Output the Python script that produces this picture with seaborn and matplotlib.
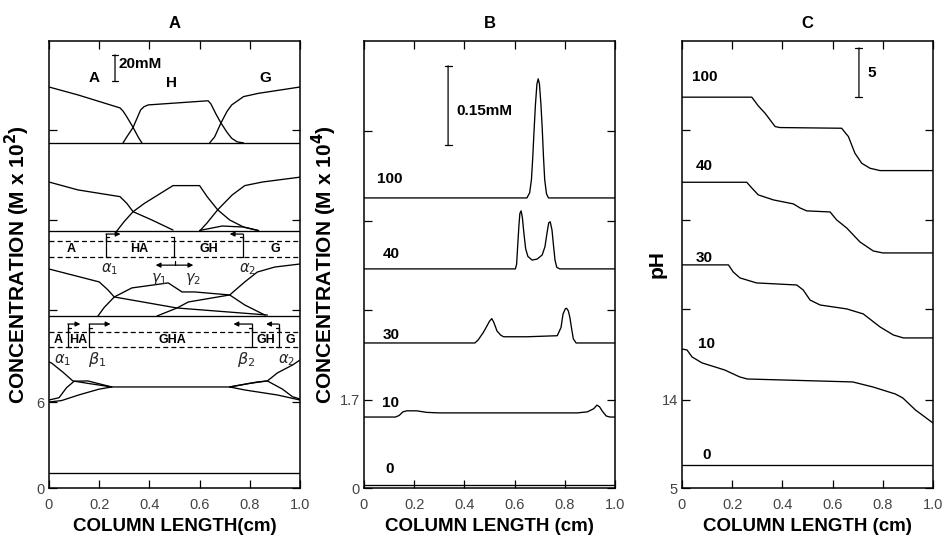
import matplotlib
matplotlib.use("Agg")
import matplotlib.pyplot as plt
import numpy as np
import pandas as pd
import seaborn as sns

sns.set_theme(style="ticks")
plt.rcParams['font.family'] = ['Liberation Sans', 'DejaVu Sans']
plt.rcParams['mathtext.fontset'] = 'dejavusans'

# ---------------- Panel A data (units of M x 10^2, stacked) ----------------
a_top_A_x = [0, 0.115, 0.283, 0.295, 0.31, 0.335, 0.355, 0.37]
a_top_A_y = [27.98, 27.43, 26.52, 26.3, 25.9, 25.16, 24.5, 24.08]
a_top_H_x = [0.295, 0.31, 0.335, 0.365, 0.378, 0.395, 0.634, 0.645, 0.665, 0.685, 0.71, 0.728, 0.75, 0.775]
a_top_H_y = [24.08, 24.5, 25.16, 26.38, 26.6, 26.73, 27.02, 26.8, 26.1, 25.47, 24.8, 24.4, 24.15, 24.08]
a_top_G_x = [0.64, 0.66, 0.685, 0.71, 0.728, 0.775, 0.835, 1.0]
a_top_G_y = [24.08, 24.5, 25.47, 26.3, 26.73, 27.31, 27.54, 27.98]
a_top_base = 24.08

a_mid_A_x = [0, 0.115, 0.283, 0.31, 0.335, 0.41, 0.494]
a_mid_A_y = [21.35, 20.80, 20.33, 19.86, 19.28, 18.70, 18.0]
a_mid_H_x = [0.27, 0.30, 0.335, 0.38, 0.494, 0.60, 0.63, 0.672, 0.72, 0.775, 0.835]
a_mid_H_y = [17.93, 18.6, 19.28, 19.86, 21.1, 21.1, 20.33, 19.41, 18.7, 18.21, 17.95]
a_mid_G_x = [0.60, 0.63, 0.672, 0.73, 0.78, 0.85, 1.0]
a_mid_G_y = [17.93, 18.5, 19.41, 20.45, 21.1, 21.35, 21.69]
a_mid_GH_x = [0.60, 0.69, 0.775, 0.835]
a_mid_GH_y = [17.97, 18.28, 18.21, 17.97]
a_mid_base = 17.93

a_low_A_x = [0, 0.2, 0.235, 0.26, 0.51, 0.87]
a_low_A_y = [15.28, 14.38, 13.82, 13.33, 12.56, 12.07]
a_low_H_x = [0.195, 0.22, 0.26, 0.33, 0.475, 0.53, 0.58, 0.72, 0.78, 0.86]
a_low_H_y = [12.0, 12.6, 13.33, 13.96, 14.31, 13.68, 13.68, 13.47, 12.77, 12.07]
a_low_G_x = [0.43, 0.51, 0.555, 0.72, 0.78, 0.83, 0.90, 1.0]
a_low_G_y = [12.0, 12.56, 12.98, 13.47, 14.38, 15.07, 15.42, 15.63]
a_low_base = 12.0

a_bot_a_x = [0, 0.01, 0.055, 0.095, 0.155, 0.25, 0.72]
a_bot_a_y = [8.79, 8.72, 8.09, 7.47, 7.30, 7.05, 7.05]
a_bot_b_x = [0, 0.04, 0.07, 0.10, 0.155, 0.25]
a_bot_b_y = [6.14, 6.3, 7.0, 7.45, 7.47, 7.05]
a_bot_c_x = [0, 0.05, 0.12, 0.2, 0.25]
a_bot_c_y = [6.0, 6.1, 6.5, 6.9, 7.05]
a_bot_d_x = [0.72, 0.83, 0.87, 0.91, 0.97, 1.0]
a_bot_d_y = [7.05, 7.40, 7.47, 8.03, 8.58, 8.93]
a_bot_e_x = [0.72, 0.78, 0.91, 1.0]
a_bot_e_y = [7.05, 6.84, 6.49, 6.14]
a_bot_f_x = [0.72, 0.80, 0.87, 0.93, 0.97, 1.0]
a_bot_f_y = [7.05, 7.3, 7.47, 6.9, 6.37, 6.21]
a_zero_level = 1.05

a_yticks = [0, 6.0, 12.42, 18.70, 24.98]
a_yticklabels = ["0", "6", "", "", ""]

# ---------------- Panel B data (M x 10^4, stacked) ----------------
b_t100_x = [0, 0.649, 0.66, 0.667, 0.672, 0.677, 0.683, 0.689, 0.694, 0.699, 0.705, 0.71, 0.715, 0.72, 0.727, 0.735, 1.0]
b_t100_y = [5.60, 5.60, 5.70, 5.95, 6.35, 6.85, 7.40, 7.80, 7.90, 7.80, 7.40, 6.95, 6.40, 5.95, 5.68, 5.60, 5.60]
b_t40_x = [0, 0.603, 0.608, 0.612, 0.617, 0.621, 0.626, 0.631, 0.637, 0.644, 0.653, 0.67, 0.69, 0.71, 0.721, 0.729, 0.736, 0.742, 0.749, 0.755, 0.761, 0.768, 0.78, 1.0]
b_t40_y = [4.23, 4.23, 4.32, 4.65, 5.05, 5.30, 5.35, 5.22, 4.92, 4.62, 4.47, 4.40, 4.42, 4.50, 4.66, 4.92, 5.12, 5.14, 4.98, 4.68, 4.40, 4.26, 4.23, 4.23]
b_t30_x = [0, 0.442, 0.455, 0.475, 0.49, 0.50, 0.509, 0.517, 0.53, 0.545, 0.556, 0.65, 0.77, 0.785, 0.793, 0.802, 0.807, 0.814, 0.82, 0.828, 0.834, 0.845, 1.0]
b_t30_y = [2.80, 2.80, 2.86, 3.00, 3.13, 3.22, 3.27, 3.20, 3.03, 2.95, 2.92, 2.92, 2.94, 3.10, 3.36, 3.46, 3.47, 3.42, 3.30, 3.05, 2.88, 2.80, 2.80]
b_t10_x = [0, 0.125, 0.14, 0.155, 0.17, 0.21, 0.25, 0.30, 0.85, 0.89, 0.915, 0.928, 0.938, 0.95, 0.965, 0.98, 1.0]
b_t10_y = [1.37, 1.37, 1.40, 1.47, 1.49, 1.49, 1.46, 1.45, 1.45, 1.47, 1.53, 1.60, 1.57, 1.48, 1.39, 1.37, 1.37]
b_t0_x = [0, 1.0]
b_t0_y = [0.06, 0.06]
b_yticks = [0, 1.7, 3.44, 5.15, 6.89]
b_yticklabels = ["0", "1.7", "", "", ""]

# ---------------- Panel C data (pH, stacked) ----------------
c_t100_x = [0, 0.278, 0.304, 0.331, 0.351, 0.371, 0.39, 0.636, 0.663, 0.689, 0.716, 0.749, 0.789, 1.0]
c_t100_y = [44.87, 44.87, 43.98, 43.23, 42.55, 41.87, 41.77, 41.70, 40.85, 39.15, 38.13, 37.62, 37.38, 37.38]
c_t40_x = [0, 0.258, 0.278, 0.304, 0.364, 0.444, 0.47, 0.497, 0.59, 0.616, 0.656, 0.709, 0.762, 0.80, 1.0]
c_t40_y = [36.19, 36.19, 35.61, 34.90, 34.39, 33.98, 33.57, 33.27, 33.16, 32.35, 31.53, 30.10, 29.18, 28.98, 28.98]
c_t30_x = [0, 0.185, 0.204, 0.231, 0.297, 0.457, 0.483, 0.51, 0.55, 0.656, 0.722, 0.789, 0.842, 0.882, 1.0]
c_t30_y = [27.76, 27.76, 27.04, 26.43, 25.92, 25.71, 25.20, 24.18, 23.67, 23.27, 22.76, 21.43, 20.61, 20.31, 20.31]
c_t10_x = [0, 0.02, 0.04, 0.08, 0.17, 0.23, 0.26, 0.68, 0.76, 0.85, 0.88, 0.93, 1.0]
c_t10_y = [19.18, 19.08, 18.37, 17.76, 17.04, 16.33, 16.12, 15.82, 15.31, 14.59, 14.18, 12.96, 11.63]
c_t0_x = [0, 1.0]
c_t0_y = [7.35, 7.35]
c_yticks = [5, 14, 23.27, 32.35, 41.53]
c_yticklabels = ["5", "14", "", "", ""]

x_ticks = [0, 0.2, 0.4, 0.6, 0.8, 1.0]
x_ticklabels = ["0", "0.2", "0.4", "0.6", "0.8", "1.0"]


def frame(traces):
    rows = []
    for name, (xs, ys) in traces.items():
        for i, (xv, yv) in enumerate(zip(xs, ys)):
            rows.append((name, i, xv, yv))
    return pd.DataFrame(rows, columns=["trace", "order", "x", "y"])


dfA = frame({
    "topA": (a_top_A_x, a_top_A_y), "topH": (a_top_H_x, a_top_H_y), "topG": (a_top_G_x, a_top_G_y),
    "topBase": ([0, 1], [a_top_base, a_top_base]),
    "midA": (a_mid_A_x, a_mid_A_y), "midH": (a_mid_H_x, a_mid_H_y), "midG": (a_mid_G_x, a_mid_G_y),
    "midGH": (a_mid_GH_x, a_mid_GH_y), "midBase": ([0, 1], [a_mid_base, a_mid_base]),
    "lowA": (a_low_A_x, a_low_A_y), "lowH": (a_low_H_x, a_low_H_y), "lowG": (a_low_G_x, a_low_G_y),
    "lowBase": ([0, 1], [a_low_base, a_low_base]),
    "bota": (a_bot_a_x, a_bot_a_y), "botb": (a_bot_b_x, a_bot_b_y), "botc": (a_bot_c_x, a_bot_c_y),
    "botd": (a_bot_d_x, a_bot_d_y), "bote": (a_bot_e_x, a_bot_e_y), "botf": (a_bot_f_x, a_bot_f_y),
    "zero": ([0, 1], [a_zero_level, a_zero_level]),
})
dfB = frame({"100": (b_t100_x, b_t100_y), "40": (b_t40_x, b_t40_y), "30": (b_t30_x, b_t30_y),
             "10": (b_t10_x, b_t10_y), "0": (b_t0_x, b_t0_y)})
dfC = frame({"100": (c_t100_x, c_t100_y), "40": (c_t40_x, c_t40_y), "30": (c_t30_x, c_t30_y),
             "10": (c_t10_x, c_t10_y), "0": (c_t0_x, c_t0_y)})

fig = plt.figure(figsize=(9.45, 5.43), dpi=100)
W, H = 945.0, 543.0
ax_w = 251 / W
ax_h = 447 / H
ax_b = (543 - 488) / H
axA = fig.add_axes([49 / W, ax_b, ax_w, ax_h])
axB = fig.add_axes([364 / W, ax_b, ax_w, ax_h])
axC = fig.add_axes([682 / W, ax_b, ax_w, ax_h])

for ax, df in ((axA, dfA), (axB, dfB), (axC, dfC)):
    sns.lineplot(data=df, x="x", y="y", units="trace", estimator=None, sort=False,
                 color="black", linewidth=0.95, ax=ax, legend=False)

axA.set_ylim(0, 31.19)
axB.set_ylim(0, 8.63)
axC.set_ylim(5, 50.6)

bold = dict(fontweight="bold", color="black")

for ax, yt, ytl, title, ylab, xlab, ylx in (
        (axA, a_yticks, a_yticklabels, "A", "CONCENTRATION (M x 10$^\\mathbf{2}$)", "COLUMN LENGTH(cm)", -0.066),
        (axB, b_yticks, b_yticklabels, "B", "CONCENTRATION (M x 10$^\\mathbf{4}$)", "COLUMN LENGTH (cm)", -0.098),
        (axC, c_yticks, c_yticklabels, "C", "pH", "COLUMN LENGTH (cm)", -0.062)):
    ax.set_xlim(0, 1.0)
    ax.set_xticks(x_ticks)
    ax.set_xticklabels(x_ticklabels)
    ax.set_yticks(yt)
    ax.set_yticklabels(ytl)
    ax.tick_params(direction="in", top=True, right=True, length=6, width=0.9,
                   labelsize=10.5, labelcolor="#444444", color="black")
    ax.tick_params(axis="x", pad=7)
    ax.tick_params(axis="y", pad=3)
    for s in ax.spines.values():
        s.set_visible(True)
        s.set_linewidth(1.1)
        s.set_color("black")
    ax.set_facecolor("white")
    ax.set_xlabel(xlab, fontsize=13.5, **bold)
    ax.xaxis.set_label_coords(0.5, -0.066)
    ax.set_ylabel(ylab, fontsize=15, **bold)
    ax.yaxis.set_label_coords(ylx, 0.5)
    ax.text(0.5, 1.04, title, transform=ax.transAxes, ha="center", va="center",
            fontsize=12, **bold)

# ---- Panel A annotations ----
ax = axA
ax.text(0.18, 28.6, "A", ha="center", va="center", fontsize=11, **bold)
ax.text(0.49, 28.26, "H", ha="center", va="center", fontsize=11, **bold)
ax.text(0.86, 28.6, "G", ha="center", va="center", fontsize=11, **bold)
ax.annotate("", xy=(0.263, 28.4), xytext=(0.263, 30.22),
            arrowprops=dict(arrowstyle="|-|", lw=0.9, color="black", mutation_scale=2.5,
                            shrinkA=0, shrinkB=0))
ax.text(0.278, 29.6, "20mM", ha="left", va="center", fontsize=11, **bold)

def dashed_box(ax, ytop, ybot, seps, labels, label_x, label_y, arrows, arrow_y):
    ax.plot([0, 1], [ytop, ytop], ls=(0, (4, 2.5)), lw=0.9, color="black")
    ax.plot([0, 1], [ybot, ybot], ls=(0, (4, 2.5)), lw=0.9, color="black")
    for sx, side in seps:
        ax.plot([sx, sx], [ybot, ytop + 0.25], lw=0.9, color="black")
        d = 0.012 if side == "[" else -0.012
        ax.plot([sx, sx + d], [ytop + 0.25, ytop + 0.25], lw=0.9, color="black")
        ax.plot([sx, sx + d], [ybot, ybot], lw=0.9, color="black")
    for lx, lt in zip(label_x, labels):
        ax.text(lx, label_y, lt, ha="center", va="center", fontsize=9, **bold)
    for x0, x1 in arrows:
        ax.plot([x0, x0], [ytop, arrow_y], lw=0.9, color="black")
        ax.annotate("", xy=(x1, arrow_y), xytext=(x0, arrow_y),
                    arrowprops=dict(arrowstyle="-|>", lw=0.9, color="black",
                                    mutation_scale=7, shrinkA=0, shrinkB=0))

dashed_box(ax, 17.24, 16.12, [(0.227, "["), (0.498, "]"), (0.773, "]")],
           ["A", "HA", "GH", "G"], [0.09, 0.36, 0.635, 0.90], 16.66,
           [(0.227, 0.285), (0.773, 0.72)], 17.72)
dashed_box(ax, 10.89, 9.84, [(0.075, "["), (0.16, "["), (0.81, "]"), (0.915, "]")],
           ["A", "HA", "GHA", "GH", "G"], [0.035, 0.118, 0.49, 0.865, 0.96], 10.35,
           [(0.075, 0.125), (0.16, 0.245), (0.81, 0.735), (0.915, 0.865)], 11.44)

ax.text(0.243, 15.3, r"$\alpha_1$", ha="center", va="center", fontsize=10.5)
ax.text(0.79, 15.3, r"$\alpha_2$", ha="center", va="center", fontsize=10.5)
ax.text(0.44, 14.55, r"$\gamma_1$", ha="center", va="center", fontsize=10.5)
ax.text(0.575, 14.55, r"$\gamma_2$", ha="center", va="center", fontsize=10.5)
ax.annotate("", xy=(0.575, 15.55), xytext=(0.425, 15.55),
            arrowprops=dict(arrowstyle="<|-|>", lw=0.9, color="black", mutation_scale=7,
                            shrinkA=0, shrinkB=0))
ax.plot([0.5, 0.5], [15.55, 15.85], lw=0.9, color="black")
ax.text(0.055, 8.95, r"$\alpha_1$", ha="center", va="center", fontsize=10.5)
ax.text(0.19, 8.95, r"$\beta_1$", ha="center", va="center", fontsize=11.5)
ax.text(0.785, 8.95, r"$\beta_2$", ha="center", va="center", fontsize=11.5)
ax.text(0.945, 8.95, r"$\alpha_2$", ha="center", va="center", fontsize=10.5)

# ---- Panel B annotations ----
ax = axB
for lab, lx, ly in (("100", 0.05, 5.97), ("40", 0.075, 4.52), ("30", 0.075, 2.95),
                    ("10", 0.07, 1.64), ("0", 0.085, 0.37)):
    ax.text(lx, ly, lab, ha="left", va="center", fontsize=11, **bold)
ax.annotate("", xy=(0.335, 6.62), xytext=(0.335, 8.15),
            arrowprops=dict(arrowstyle="|-|", lw=0.9, color="black", mutation_scale=2.5,
                            shrinkA=0, shrinkB=0))
ax.text(0.37, 7.28, "0.15mM", ha="left", va="center", fontsize=11, **bold)

# ---- Panel C annotations ----
ax = axC
for lab, lx, ly in (("100", 0.04, 46.9), ("40", 0.055, 37.86), ("30", 0.055, 28.47),
                    ("10", 0.065, 19.69), ("0", 0.08, 8.37)):
    ax.text(lx, ly, lab, ha="left", va="center", fontsize=11, **bold)
ax.annotate("", xy=(0.705, 44.9), xytext=(0.705, 49.9),
            arrowprops=dict(arrowstyle="|-|", lw=0.9, color="black", mutation_scale=2.5,
                            shrinkA=0, shrinkB=0))
ax.text(0.74, 47.3, "5", ha="left", va="center", fontsize=11, **bold)

fig.savefig("out.png", dpi=100, facecolor="white")
